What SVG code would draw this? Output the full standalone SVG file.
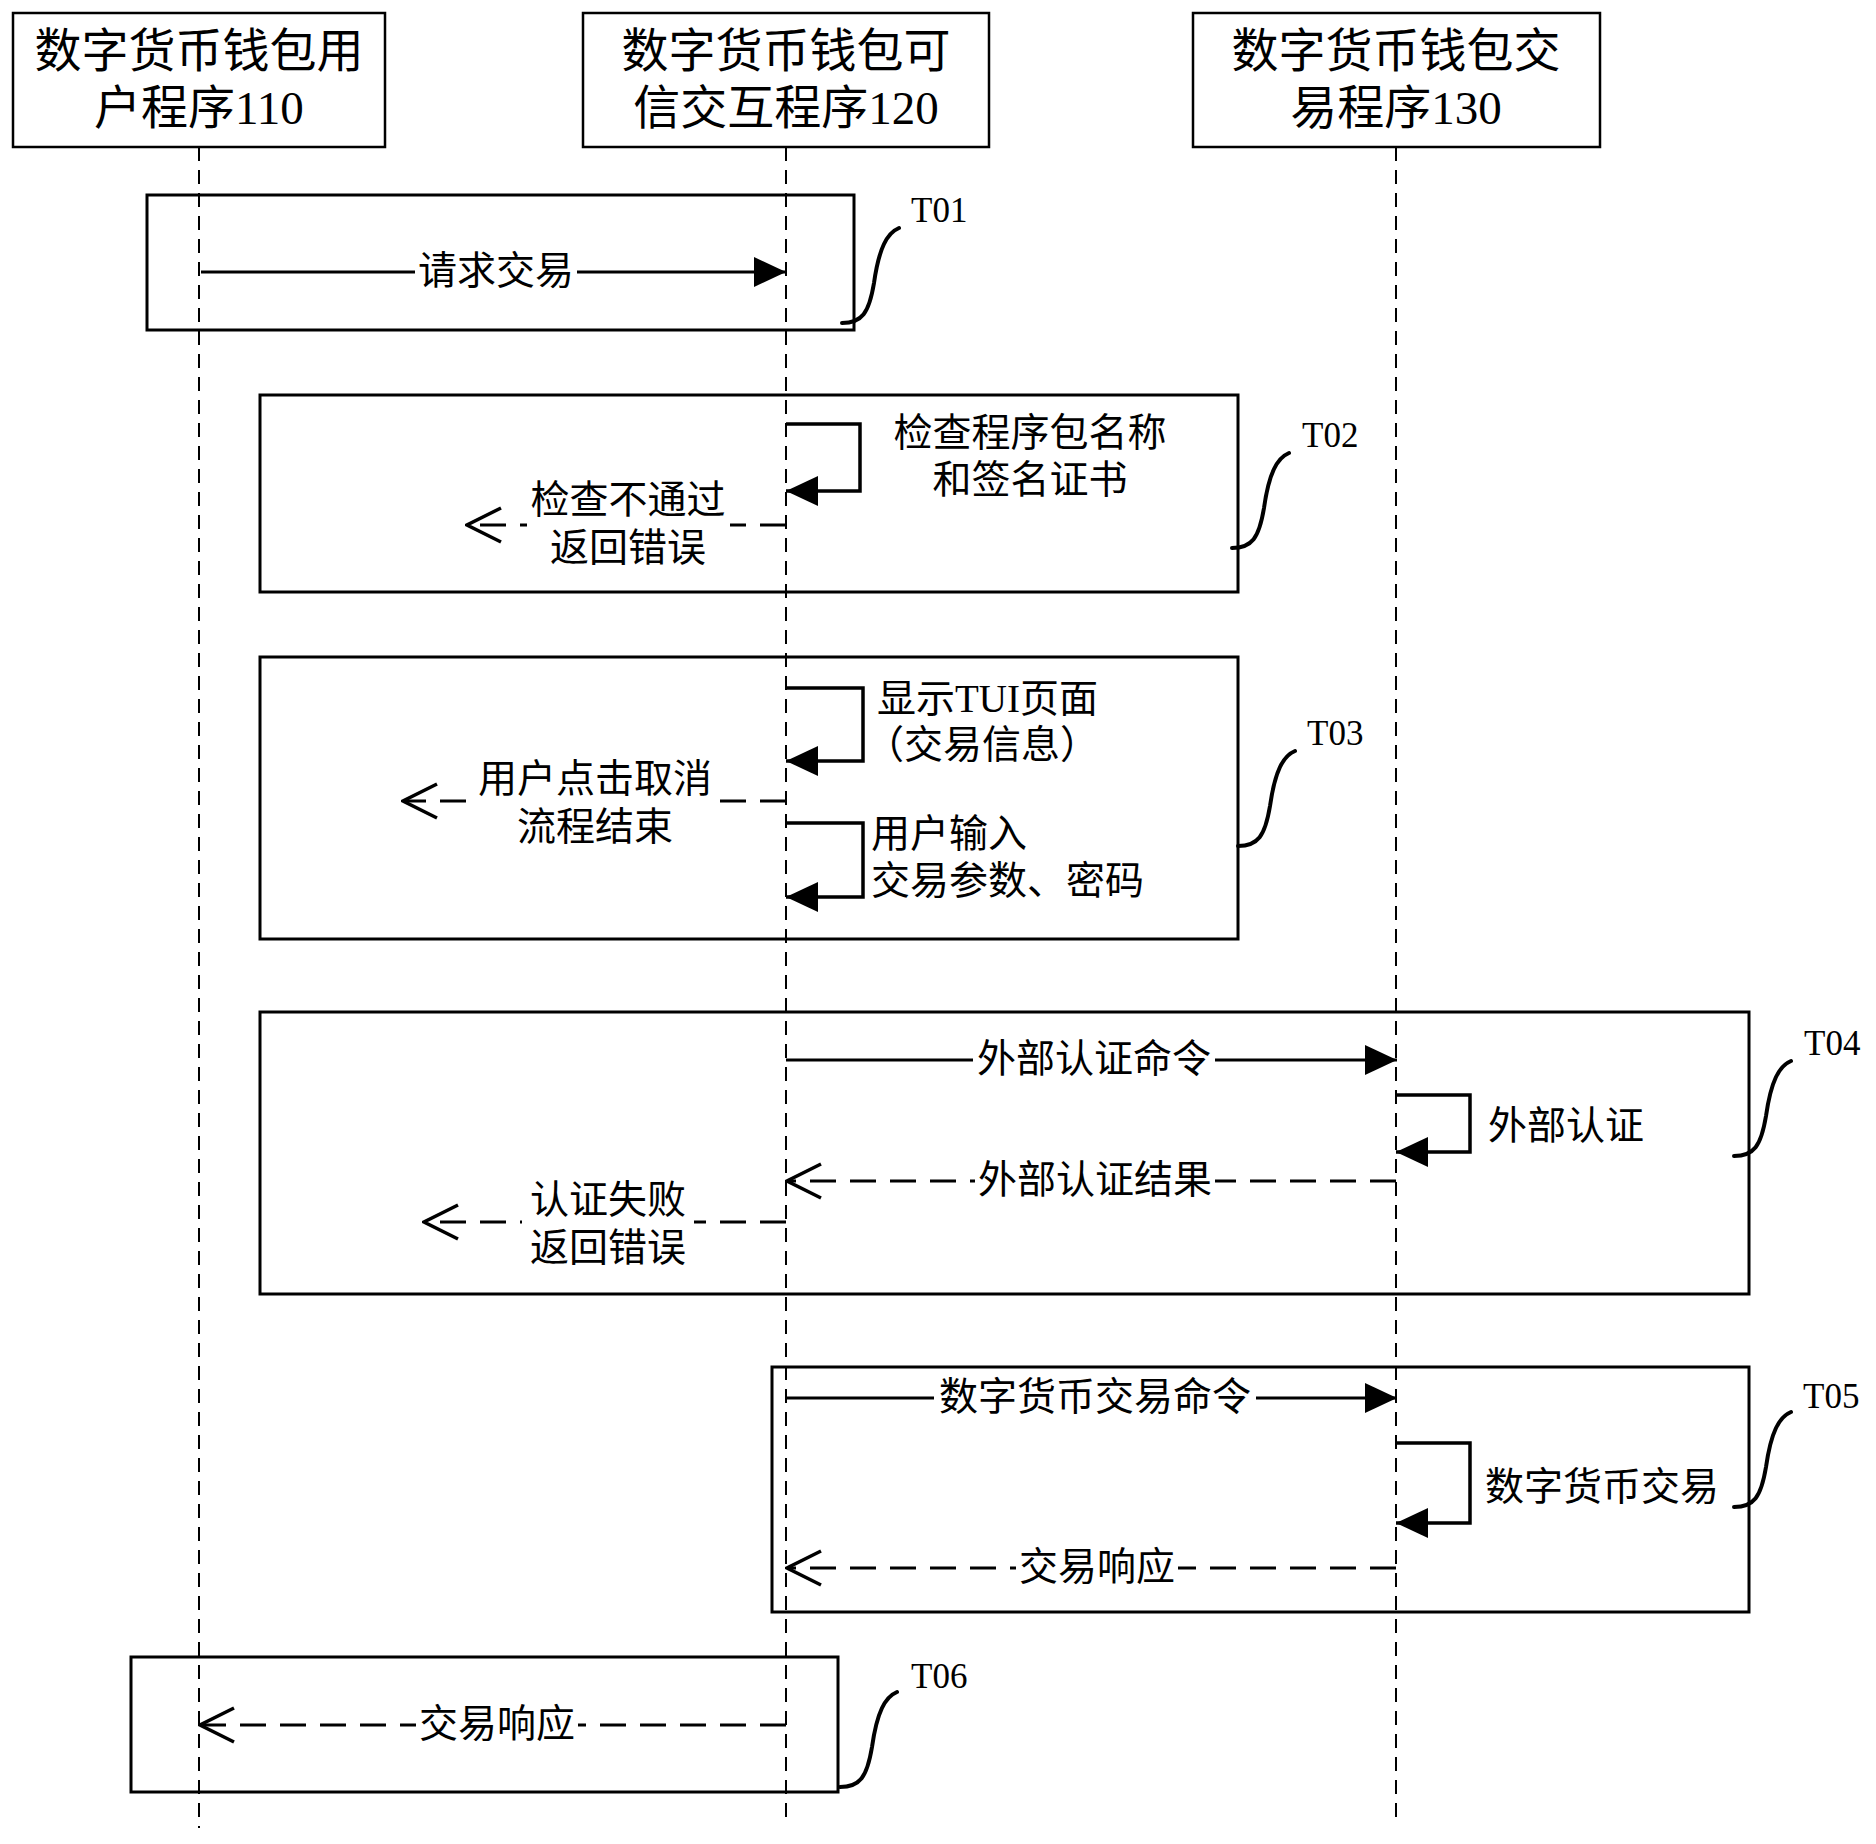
<svg xmlns="http://www.w3.org/2000/svg" width="1876" height="1844" viewBox="0 0 1876 1844">
<style>
text{font-family:'Liberation Serif','Noto Sans CJK SC',serif;fill:#000}
.hd{font-size:47px;text-anchor:middle}
.lb{font-size:39px}
.mid{text-anchor:middle}
.tl{font-size:35px}
.life{stroke:#000;stroke-width:2;stroke-dasharray:14 9;fill:none}
.hbox{fill:#fff;stroke:#000;stroke-width:2.5}
.frame{fill:none;stroke:#000;stroke-width:3}
.sol{stroke:#000;stroke-width:3;fill:none;marker-end:url(#fill)}
.dsh{stroke:#000;stroke-width:3;fill:none;stroke-dasharray:26 14;marker-end:url(#open)}
.self{stroke:#000;stroke-width:3.5;fill:none;marker-end:url(#fill)}
.lead{stroke:#000;stroke-width:4;fill:none;stroke-linecap:round}
.bg{fill:#fff}
</style>
<defs>
<marker id="fill" markerUnits="userSpaceOnUse" viewBox="0 0 32 30" refX="32" refY="15" markerWidth="32" markerHeight="30" orient="auto">
<path d="M0,0 L32,15 L0,30 z" fill="#000"/>
</marker>
<marker id="open" markerUnits="userSpaceOnUse" viewBox="-2 -2 38 38" refX="34" refY="17" markerWidth="38" markerHeight="38" orient="auto">
<path d="M0,0 L34,17 L0,34" fill="none" stroke="#000" stroke-width="3.5"/>
</marker>
<path id="leader" d="M0 0 C20 0,27 -10,32 -40 C37 -75,45 -90,57 -95"/>
</defs>
<rect width="1876" height="1844" fill="#fff"/>

<g id="lifelines">
<line class="life" x1="199" y1="147" x2="199" y2="1828"/>
<line class="life" x1="786" y1="147" x2="786" y2="1818"/>
<line class="life" x1="1396" y1="147" x2="1396" y2="1818"/>
</g>

<g id="node-110">
<rect class="hbox" x="13" y="13" width="372" height="134"/>
<text class="hd" x="199" y="67">数字货币钱包用</text>
<text class="hd" x="199" y="124">户程序110</text>
</g>
<g id="node-120">
<rect class="hbox" x="583" y="13" width="406" height="134"/>
<text class="hd" x="786" y="67">数字货币钱包可</text>
<text class="hd" x="786" y="124">信交互程序120</text>
</g>
<g id="node-130">
<rect class="hbox" x="1193" y="13" width="407" height="134"/>
<text class="hd" x="1396" y="67">数字货币钱包交</text>
<text class="hd" x="1396" y="124">易程序130</text>
</g>

<g id="T01">
<rect class="frame" x="147" y="195" width="707" height="135"/>
<use href="#leader" class="lead" transform="translate(842,323)"/>
<text class="tl" x="911" y="222">T01</text>
</g>
<g id="T02">
<rect class="frame" x="260" y="395" width="978" height="197"/>
<use href="#leader" class="lead" transform="translate(1232,548)"/>
<text class="tl" x="1302" y="447">T02</text>
</g>
<g id="T03">
<rect class="frame" x="260" y="657" width="978" height="282"/>
<use href="#leader" class="lead" transform="translate(1238,846)"/>
<text class="tl" x="1307" y="745">T03</text>
</g>
<g id="T04">
<rect class="frame" x="260" y="1012" width="1489" height="282"/>
<use href="#leader" class="lead" transform="translate(1734,1156)"/>
<text class="tl" x="1804" y="1055">T04</text>
</g>
<g id="T05">
<rect class="frame" x="772" y="1367" width="977" height="245"/>
<use href="#leader" class="lead" transform="translate(1734,1507)"/>
<text class="tl" x="1803" y="1408">T05</text>
</g>
<g id="T06">
<rect class="frame" x="131" y="1657" width="707" height="135"/>
<use href="#leader" class="lead" transform="translate(840,1787)"/>
<text class="tl" x="911" y="1688">T06</text>
</g>

<g id="connectors">
<g id="m1">
<line class="sol" x1="201" y1="272" x2="786" y2="272"/>
<rect class="bg" x="415" y="262" width="162" height="20"/>
<text class="lb mid" x="496" y="284">请求交易</text>
</g>
<g id="m2">
<path class="self" d="M786 424 H860 V491 H786"/>
<text class="lb mid" x="1030" y="446">检查程序包名称</text>
<text class="lb mid" x="1030" y="493">和签名证书</text>
</g>
<g id="m3">
<line class="dsh" x1="786" y1="525" x2="467" y2="525"/>
<rect class="bg" x="527" y="518" width="203" height="14"/>
<text class="lb mid" x="628" y="513">检查不通过</text>
<text class="lb mid" x="628" y="561">返回错误</text>
</g>
<g id="m4">
<path class="self" d="M786 688 H863 V761 H786"/>
<text class="lb" x="877" y="712">显示TUI页面</text>
<text class="lb" x="865" y="758">（交易信息）</text>
</g>
<g id="m5">
<line class="dsh" x1="786" y1="801" x2="403" y2="801"/>
<rect class="bg" x="472" y="794" width="246" height="14"/>
<text class="lb mid" x="595" y="792">用户点击取消</text>
<text class="lb mid" x="595" y="840">流程结束</text>
</g>
<g id="m6">
<path class="self" d="M786 823 H863 V897 H786"/>
<text class="lb" x="871" y="847">用户输入</text>
<text class="lb" x="871" y="894">交易参数、密码</text>
</g>
<g id="m7">
<line class="sol" x1="786" y1="1060" x2="1397" y2="1060"/>
<rect class="bg" x="973" y="1050" width="242" height="20"/>
<text class="lb mid" x="1094" y="1072">外部认证命令</text>
</g>
<g id="m8">
<path class="self" d="M1396 1095 H1470 V1152 H1396"/>
<text class="lb" x="1488" y="1139">外部认证</text>
</g>
<g id="m9">
<line class="dsh" x1="1396" y1="1181" x2="787" y2="1181"/>
<rect class="bg" x="975" y="1171" width="240" height="20"/>
<text class="lb mid" x="1095" y="1193">外部认证结果</text>
</g>
<g id="m10">
<line class="dsh" x1="786" y1="1222" x2="424" y2="1222"/>
<rect class="bg" x="522" y="1215" width="172" height="14"/>
<text class="lb mid" x="608" y="1213">认证失败</text>
<text class="lb mid" x="608" y="1261">返回错误</text>
</g>
<g id="m11">
<line class="sol" x1="786" y1="1398" x2="1397" y2="1398"/>
<rect class="bg" x="934" y="1388" width="322" height="20"/>
<text class="lb mid" x="1095" y="1410">数字货币交易命令</text>
</g>
<g id="m12">
<path class="self" d="M1396 1443 H1470 V1523 H1396"/>
<text class="lb" x="1485" y="1500">数字货币交易</text>
</g>
<g id="m13">
<line class="dsh" x1="1396" y1="1568" x2="787" y2="1568"/>
<rect class="bg" x="1016" y="1558" width="162" height="20"/>
<text class="lb mid" x="1097" y="1580">交易响应</text>
</g>
<g id="m14">
<line class="dsh" x1="786" y1="1725" x2="200" y2="1725"/>
<rect class="bg" x="416" y="1715" width="162" height="20"/>
<text class="lb mid" x="497" y="1737">交易响应</text>
</g>
</g>
</svg>
